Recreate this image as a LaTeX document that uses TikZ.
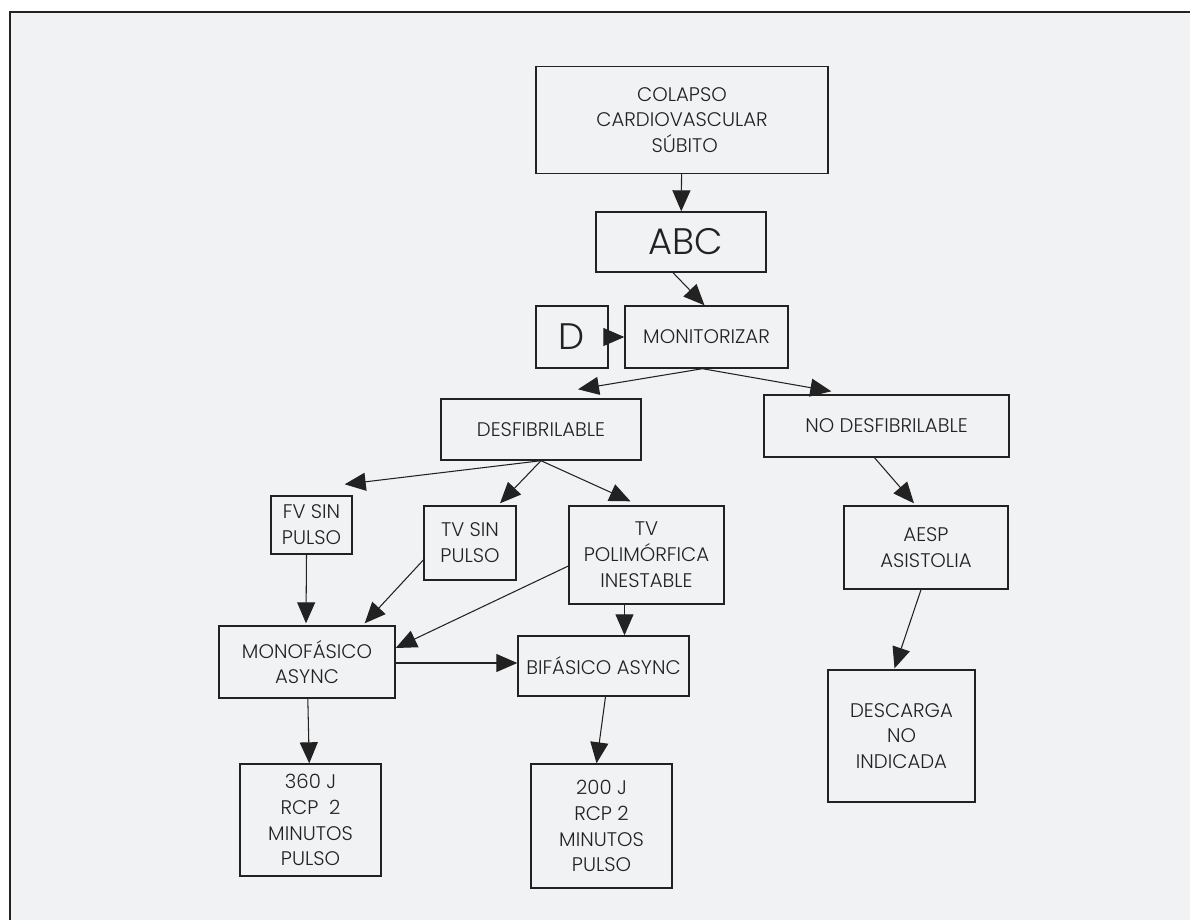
\documentclass[tikz,border=0pt]{standalone}
\usepackage{fontspec}
\setmainfont{Poppins}[UprightFont=* Light]
\usepackage{xcolor}
\usepackage{tikz}
\usetikzlibrary{arrows.meta, shapes.geometric, positioning, calc}

\definecolor{panel}{HTML}{F1F2F4}
\definecolor{ink}{HTML}{222222}

\begin{document}
\begin{tikzpicture}[x=0.02cm, y=-0.02cm, >={Triangle[length=0.42cm, width=0.36cm]},
  font=\fontsize{11.2}{14.7}\selectfont, line width=0.6pt,
  box/.style={draw=ink, text=ink, line width=0.8pt, inner sep=0pt, align=center},
  big/.style={box, font=\fontsize{21}{24}\selectfont},
  link/.style={->, draw=ink}]
  \useasboundingbox (0,0) rectangle (1190,920);
  \fill[panel] (10,12) rectangle (1190,920);
  \draw[ink, line width=0.8pt] (10,920) -- (10,12) -- (1190,12);

  \node[box, minimum width=5.84cm, minimum height=2.14cm] (colapso) at (682,120) {COLAPSO\\CARDIOVASCULAR\\\ SÚBITO};
  \node[big, minimum width=3.4cm, minimum height=1.2cm] (abc) at (681,242) {\ ABC};
  \node[big, minimum width=1.44cm, minimum height=1.24cm] (d) at (572,337) {D};
  \node[box, minimum width=3.26cm, minimum height=1.24cm] (monit) at (706.5,337) {MONITORIZAR};
  \node[box, minimum width=4cm, minimum height=1.22cm] (desf) at (541,429.5) {DESFIBRILABLE};
  \node[box, minimum width=4.9cm, minimum height=1.24cm] (nodesf) at (886.5,426) {NO DESFIBRILABLE};
  \node[box, minimum width=1.62cm, minimum height=1.16cm] (fv) at (311.5,525) {FV SIN\\PULSO};
  \node[box, minimum width=1.84cm, minimum height=1.48cm] (tvsin) at (470,543) {TV SIN\\PULSO};
  \node[box, minimum width=3.1cm, minimum height=1.96cm] (tvpoli) at (646.5,555) {TV\\POLIMÓRFICA\\INESTABLE};
  \node[box, minimum width=3.52cm, minimum height=1.44cm] (mono) at (307,662) {MONOFÁSICO\\ASYNC};
  \node[box, minimum width=3.42cm, minimum height=1.2cm] (bif) at (603.5,666) {BIFÁSICO ASYNC};
  \node[box, minimum width=2.82cm, minimum height=2.24cm] (j360) at (310.5,820) {360 J\\RCP\ \ 2\\MINUTOS\\PULSO};
  \node[box, minimum width=2.82cm, minimum height=2.48cm] (j200) at (601.5,826) {200 J\\RCP 2\\MINUTOS\\PULSO};
  \node[box, minimum width=3.28cm, minimum height=1.66cm] (aesp) at (926,547.5) {AESP\\ASISTOLIA};
  \node[box, minimum width=2.94cm, minimum height=2.64cm] (descarga) at (901.5,736) {DESCARGA\\NO\\INDICADA};

  \draw[link] (colapso) -- (abc);
  \draw[link] ($(abc.south)+(-8,0)$) -- ($(monit.north)+(-2,0)$);
  \draw[link] (d) -- (monit);
  \draw[link] ($(monit.south)+(-4,0)$) -- ($(desf.north)+(37,-9)$);
  \draw[link] ($(monit.south)+(-4,0)$) -- ($(nodesf.north west)+(68,-3)$);
  \draw[link] (desf.south) -- ($(fv.north east)+(-8,-11)$);
  \draw[link] (desf.south) -- ($(tvsin.north)+(30,-2)$);
  \draw[link] (desf.south) -- ($(tvpoli.north)+(-16,-4)$);
  \draw[link] ($(fv.south)+(-5,0)$) -- ($(mono.north)+(-1,-2)$);
  \draw[link] ($(tvsin.west)+(0,17)$) -- ($(mono.north east)+(-31,-2)$);
  \draw[link] ($(tvpoli.west)+(0,11)$) -- ($(mono.east)+(0,-14)$);
  \draw[link] ($(tvpoli.south)+(-22,0)$) -- ($(bif.north)+(21,0)$);
  \draw[link] ($(mono.east)+(0,1)$) -- ($(bif.west)+(0,-3)$);
  \draw[link] (mono) -- (j360);
  \draw[link] ($(bif.south)+(2,0)$) -- ($(j200.north)+(-5,0)$);
  \draw[link] ($(nodesf.south)+(-12,0)$) -- ($(aesp.north)+(-12,-2)$);
  \draw[link] ($(aesp.south)+(-5,0)$) -- ($(descarga.north)+(-7,-1)$);
\end{tikzpicture}
\end{document}
